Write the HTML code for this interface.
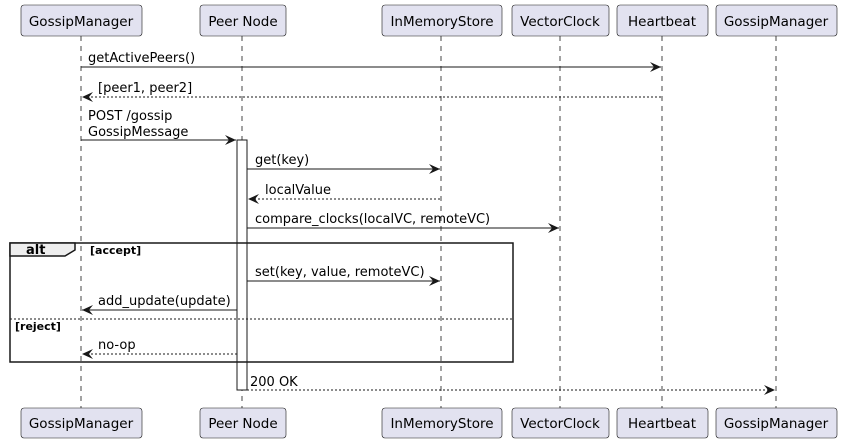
<!DOCTYPE html><html><head><style>body{margin:0;background:#fff}</style></head><body>
<svg width="842" height="442" xmlns="http://www.w3.org/2000/svg" font-family="DejaVu Sans, sans-serif">
<defs><marker id="a" markerWidth="12" markerHeight="10" refX="11" refY="5" orient="auto" markerUnits="userSpaceOnUse"><path d="M0,0 L11,5 L0,10 L4,5 Z" fill="#181818"/></marker></defs>
<g stroke="#181818" stroke-dasharray="5,5" stroke-width="0.8">
<line x1="81" y1="36" x2="81" y2="408"/><line x1="242" y1="36" x2="242" y2="408"/><line x1="441" y1="36" x2="441" y2="408"/><line x1="560" y1="36" x2="560" y2="408"/><line x1="662" y1="36" x2="662" y2="408"/><line x1="776" y1="36" x2="776" y2="408"/></g>
<g fill="#e2e2f0" stroke="#181818" stroke-width="0.6">
<rect x="21" y="5" width="121" height="31" rx="3"/><rect x="200" y="5" width="86" height="31" rx="3"/><rect x="382" y="5" width="120" height="31" rx="3"/><rect x="512" y="5" width="97" height="31" rx="3"/><rect x="617" y="5" width="91" height="31" rx="3"/><rect x="716" y="5" width="121" height="31" rx="3"/>
<rect x="21" y="408" width="121" height="30" rx="3"/><rect x="200" y="408" width="86" height="30" rx="3"/><rect x="382" y="408" width="120" height="30" rx="3"/><rect x="512" y="408" width="97" height="30" rx="3"/><rect x="617" y="408" width="91" height="30" rx="3"/><rect x="716" y="408" width="121" height="30" rx="3"/></g>
<g font-size="13.5" fill="#000" text-anchor="middle">
<text x="81" y="26">GossipManager</text><text x="243" y="26">Peer Node</text><text x="442" y="26">InMemoryStore</text><text x="560" y="26">VectorClock</text><text x="662" y="26">Heartbeat</text><text x="776" y="26">GossipManager</text>
<text x="81" y="428">GossipManager</text><text x="243" y="428">Peer Node</text><text x="442" y="428">InMemoryStore</text><text x="560" y="428">VectorClock</text><text x="662" y="428">Heartbeat</text><text x="776" y="428">GossipManager</text></g>
<rect x="237" y="140" width="10" height="250" fill="#fff" stroke="#181818" stroke-width="1"/>
<g stroke="#181818" stroke-width="1" fill="none">
<line x1="81" y1="67" x2="661" y2="67" marker-end="url(#a)"/>
<line x1="661" y1="97" x2="82" y2="97" stroke-dasharray="2,2" marker-end="url(#a)"/>
<line x1="81" y1="140" x2="236" y2="140" marker-end="url(#a)"/>
<line x1="247" y1="169" x2="440" y2="169" marker-end="url(#a)"/>
<line x1="440" y1="199" x2="248" y2="199" stroke-dasharray="2,2" marker-end="url(#a)"/>
<line x1="247" y1="228" x2="559" y2="228" marker-end="url(#a)"/>
<line x1="247" y1="281" x2="440" y2="281" marker-end="url(#a)"/>
<line x1="237" y1="310" x2="82" y2="310" marker-end="url(#a)"/>
<line x1="237" y1="354" x2="82" y2="354" stroke-dasharray="2,2" marker-end="url(#a)"/>
<line x1="247" y1="390" x2="775" y2="390" stroke-dasharray="2,2" marker-end="url(#a)"/>
<rect x="10" y="243" width="503" height="119" stroke-width="1.5"/>
<line x1="10" y1="319" x2="513" y2="319" stroke-dasharray="2,2"/>
</g>
<path d="M10,243 L75,243 L75,250 L65,256 L10,256 Z" fill="#eee" stroke="#181818" stroke-width="1.5"/>
<g font-size="13" fill="#000">
<text x="88" y="62">getActivePeers()</text><text x="98" y="92">[peer1, peer2]</text>
<text x="88" y="120">POST /gossip</text><text x="88" y="136">GossipMessage</text>
<text x="255" y="164">get(key)</text><text x="265" y="194">localValue</text>
<text x="255" y="223">compare_clocks(localVC, remoteVC)</text>
<text x="255" y="276">set(key, value, remoteVC)</text>
<text x="98" y="305">add_update(update)</text><text x="98" y="349">no-op</text>
<text x="250" y="386">200 OK</text></g>
<g font-size="11" font-weight="bold" fill="#000"><text x="26" y="254" font-size="13">alt</text><text x="90" y="254">[accept]</text><text x="15" y="330">[reject]</text></g>
</svg></body></html>
